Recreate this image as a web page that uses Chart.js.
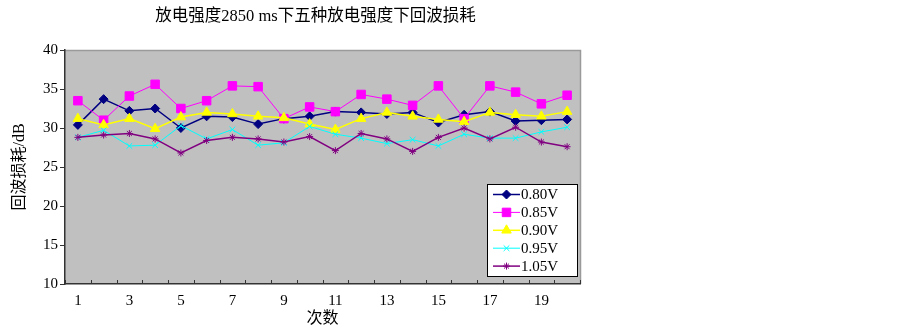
<!DOCTYPE html>
<html><head><meta charset="utf-8">
<script src="https://cdn.jsdelivr.net/npm/chart.js@4/dist/chart.umd.min.js"></script>
<style>html,body{margin:0;padding:0;background:#fff;}#wrap{width:903px;height:330px;}</style>
</head><body><div id="wrap"><canvas id="c" width="903" height="330"></canvas></div>
<script>
const titleText = '放电强度2850 ms下五种放电强度下回波损耗';
const xTitle = '次数';
const yTitle = '回波损耗/dB';
const categories = ['1','2','3','4','5','6','7','8','9','10','11','12','13','14','15','16','17','18','19','20'];
const seriesNames = ['0.80V','0.85V','0.90V','0.95V','1.05V'];
const v080 = [30.4, 33.7, 32.2, 32.5, 30.0, 31.5, 31.4, 30.5, 31.2, 31.5, 32.1, 32.0, 31.8, 32.0, 30.7, 31.7, 32.1, 30.9, 31.0, 31.1];
const v085 = [33.5, 31.0, 34.1, 35.6, 32.5, 33.5, 35.4, 35.3, 31.2, 32.7, 32.1, 34.3, 33.7, 32.9, 35.4, 31.2, 35.4, 34.6, 33.1, 34.2];
const v090 = [31.2, 30.4, 31.2, 29.9, 31.4, 32.0, 31.8, 31.5, 31.3, 30.5, 29.8, 31.2, 32.0, 31.5, 31.1, 30.8, 32.0, 31.7, 31.5, 32.1];
const v095 = [28.8, 29.7, 27.7, 27.8, 30.3, 28.6, 29.8, 27.8, 28.1, 30.2, 29.2, 28.7, 28.0, 28.5, 27.7, 29.2, 28.7, 28.7, 29.5, 30.1];
const v105 = [28.8, 29.1, 29.3, 28.6, 26.8, 28.4, 28.8, 28.6, 28.2, 28.9, 27.1, 29.3, 28.6, 27.0, 28.8, 30.0, 28.6, 30.1, 28.2, 27.6];
const yMin = 10, yMax = 40, yStep = 5;

const FONT = "'Liberation Serif', 'Noto Sans CJK SC', serif";
Chart.defaults.font.family = FONT;
Chart.defaults.color = '#000';

const styles = [
  {color:'#000080', pointStyle:'rectRot', radius:4.5, bw:1.5},
  {color:'#FF00FF', pointStyle:'rect', radius:6, bw:1},
  {color:'#FFFF00', pointStyle:'triangle', radius:5.5, bw:1.5},
  {color:'#00FFFF', pointStyle:'crossRot', radius:4, bw:1},
  {color:'#800080', pointStyle:'star', radius:3.5, bw:1.5}
];
const values = [v080, v085, v090, v095, v105];

const datasets = values.map((vals, i) => ({
  label: seriesNames[i],
  data: vals,
  borderColor: styles[i].color,
  backgroundColor: styles[i].color,
  pointBackgroundColor: styles[i].color,
  pointBorderColor: styles[i].color,
  pointStyle: styles[i].pointStyle,
  pointRadius: styles[i].radius,
  pointBorderWidth: 1,
  borderWidth: styles[i].bw,
  tension: 0,
  fill: false,
  order: 5 - i
}));

const areaPlugin = {
  id: 'area',
  beforeDraw(chart) {
    const {ctx, chartArea: a} = chart;
    ctx.save();
    ctx.fillStyle = '#C0C0C0';
    ctx.fillRect(a.left, a.top, a.right - a.left, a.bottom - a.top);
    ctx.strokeStyle = '#9a9a9a';
    ctx.lineWidth = 1.5;
    ctx.beginPath();
    ctx.moveTo(a.left, a.top + 0.5);
    ctx.lineTo(a.right + 0.5, a.top + 0.5);
    ctx.lineTo(a.right + 0.5, a.bottom);
    ctx.stroke();
    ctx.restore();
  },
  afterDatasetsDraw(chart) {
    const {ctx, chartArea: a} = chart;
    const xs = chart.scales.x;
    ctx.save();
    ctx.strokeStyle = '#333';
    ctx.lineWidth = 1;
    const n = categories.length;
    for (let i = 0; i <= n; i++) {
      let x;
      if (i === 0) x = a.left;
      else if (i === n) x = a.right;
      else x = (xs.getPixelForValue(i - 1) + xs.getPixelForValue(i)) / 2;
      x = Math.round(x) + 0.5;
      ctx.beginPath();
      ctx.moveTo(x, a.bottom);
      ctx.lineTo(x, a.bottom - 4);
      ctx.stroke();
    }
    ctx.restore();
  },
  afterDraw(chart) {
    const {ctx, chartArea: a} = chart;
    ctx.save();
    // title
    ctx.fillStyle = '#000';
    ctx.font = '16.5px ' + FONT;
    ctx.textAlign = 'center';
    ctx.textBaseline = 'middle';
    ctx.fillText(titleText, (a.left + a.right) / 2 - 7, 17);
    // legend
    const boxW = 90, boxH = 92;
    const bx = a.right - 3 - boxW, by = a.bottom - 8 - boxH;
    ctx.fillStyle = '#fff';
    ctx.fillRect(bx, by, boxW, boxH);
    ctx.strokeStyle = '#000';
    ctx.lineWidth = 1;
    ctx.strokeRect(Math.round(bx) + 0.5, Math.round(by) + 0.5, boxW, boxH);
    const rowH = 17.9;
    ctx.font = '15px ' + FONT;
    ctx.textBaseline = 'middle';
    ctx.textAlign = 'left';
    datasets.forEach((ds, i) => {
      const y = by + 10.5 + i * rowH;
      const x0 = bx + 6, x1 = bx + 33;
      ctx.strokeStyle = ds.borderColor;
      ctx.lineWidth = ds.borderWidth;
      ctx.beginPath();
      ctx.moveTo(x0, y); ctx.lineTo(x1, y);
      ctx.stroke();
      ctx.fillStyle = ds.borderColor;
      ctx.lineWidth = 1;
      if (Chart.helpers && Chart.helpers.drawPoint) {
        Chart.helpers.drawPoint(ctx, {pointStyle: ds.pointStyle, radius: ds.pointRadius, rotation: 0, borderWidth: 1}, (x0 + x1) / 2, y);
      }
      ctx.fillStyle = '#000';
      ctx.fillText(ds.label, x1 + 1, y + 1);
    });
    ctx.restore();
  }
};

new Chart(document.getElementById('c'), {
  type: 'line',
  data: {labels: categories, datasets},
  plugins: [areaPlugin],
  options: {
    responsive: false,
    animation: false,
    layout: {padding: {left: 0, right: 323, top: 50, bottom: 0}},
    plugins: {
      legend: {display: false},
      tooltip: {enabled: false},
      title: {display: false}
    },
    scales: {
      x: {
        type: 'category',
        offset: true,
        afterFit(s) { s.height = 46; },
        grid: {display: false, drawTicks: false, offset: true},
        border: {display: true, color: '#333', width: 1.5},
        ticks: {
          autoSkip: false, maxRotation: 0, padding: 8,
          font: {size: 15, family: FONT}, color: '#000',
          callback(v, i) { return i % 2 === 0 ? categories[i] : ''; }
        },
        title: {display: true, text: xTitle, font: {size: 16, family: FONT}, color: '#000', padding: {top: 0, bottom: 2}}
      },
      y: {
        min: yMin, max: yMax,
        afterFit(s) { s.width = 65; },
        grid: {display: true, drawOnChartArea: false, drawTicks: true, tickLength: 5, color: '#333'},
        border: {display: true, color: '#333', width: 1.5},
        ticks: {stepSize: yStep, padding: 2, font: {size: 15, family: FONT}, color: '#000'},
        title: {display: true, text: yTitle, font: {size: 16, family: FONT}, color: '#000', padding: {top: 10, bottom: 0}}
      }
    }
  }
});
</script>
</body></html>
